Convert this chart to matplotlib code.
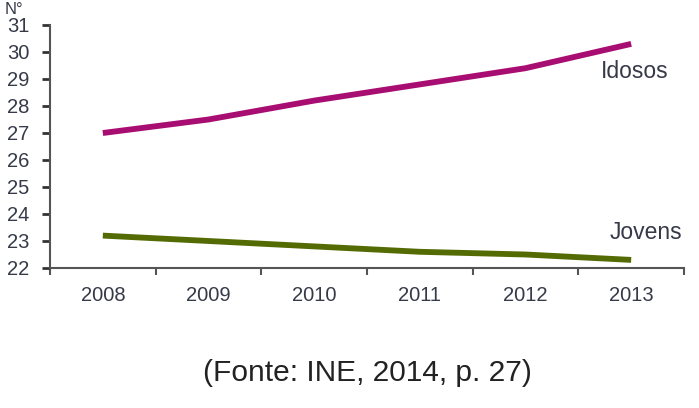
import matplotlib.pyplot as plt
from matplotlib.ticker import FixedLocator

anos = ['2008', '2009', '2010', '2011', '2012', '2013']
idosos = [27.0, 27.5, 28.2, 28.8, 29.4, 30.3]
jovens = [23.2, 23.0, 22.8, 22.6, 22.5, 22.3]
y_ticks = list(range(22, 32))

plt.rcParams['font.family'] = ['Liberation Sans', 'DejaVu Sans']

fig = plt.figure(figsize=(6.99, 4.08), dpi=100)
ax = fig.add_axes([50 / 699, 1 - 268 / 408, 634 / 699, 243 / 408])

x = range(len(anos))
ax.plot(x, idosos, color='#a80d72', lw=4.2, solid_capstyle='butt')
ax.plot(x, jovens, color='#546b04', lw=4.2, solid_capstyle='butt')

ax.set_xlim(-0.5, len(anos) - 0.5)
ax.set_ylim(22, 31)
ax.set_yticks(y_ticks)
ax.set_xticks(list(x))
ax.set_xticklabels(anos)
ax.xaxis.set_minor_locator(FixedLocator([i - 0.5 for i in range(len(anos) + 1)]))

for s in ['top', 'right']:
    ax.spines[s].set_visible(False)
for s in ['left', 'bottom']:
    ax.spines[s].set_color('#555555')
    ax.spines[s].set_linewidth(1.5)

ax.tick_params(axis='y', length=6, width=2, color='#333333', labelsize=14.5,
               labelcolor='#363a48', pad=9)
ax.tick_params(axis='x', which='major', length=0, labelsize=14.5,
               labelcolor='#363a48', pad=13)
ax.tick_params(axis='x', which='minor', length=5, width=1.5, color='#555555')

ax.text(4.71, 29.26, 'Idosos', fontsize=16.5, color='#363a48', ha='left', va='center')
ax.text(4.8, 23.33, 'Jovens', fontsize=16.5, color='#363a48', ha='left', va='center',
        clip_on=False)
fig.text(5 / 699, 1 - 2 / 408, 'N°', fontsize=12, color='#363a48', ha='left', va='top')

fig.text(0.525, 1 - 373 / 408, '(Fonte: INE, 2014, p. 27)', fontsize=21.5,
         color='#222222', ha='center', va='center')

fig.savefig('out.png', dpi=100)
